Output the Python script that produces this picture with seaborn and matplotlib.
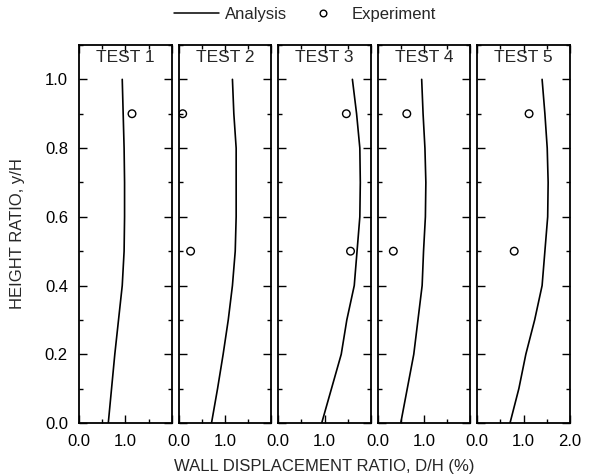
import numpy as np
import pandas as pd
import matplotlib
matplotlib.use("Agg")
import matplotlib.pyplot as plt
import seaborn as sns
from matplotlib.lines import Line2D
from matplotlib.ticker import MultipleLocator, FormatStrFormatter

# ---- data ----
tests = ["TEST 1", "TEST 2", "TEST 3", "TEST 4", "TEST 5"]
height = [0.0, 0.1, 0.2, 0.3, 0.4, 0.5, 0.6, 0.7, 0.8, 0.9, 1.0]
analysis_t1 = [0.63, 0.70, 0.77, 0.85, 0.93, 0.97, 0.98, 0.98, 0.97, 0.95, 0.93]
analysis_t2 = [0.71, 0.84, 0.96, 1.07, 1.16, 1.22, 1.24, 1.24, 1.24, 1.19, 1.16]
analysis_t3 = [0.94, 1.15, 1.36, 1.48, 1.64, 1.70, 1.76, 1.77, 1.76, 1.69, 1.60]
analysis_t4 = [0.50, 0.64, 0.78, 0.87, 0.96, 0.99, 1.03, 1.04, 1.02, 0.98, 0.95]
analysis_t5 = [0.71, 0.90, 1.05, 1.24, 1.40, 1.46, 1.52, 1.53, 1.51, 1.46, 1.40]
exp_height = [0.5, 0.9]
exp_t1 = [np.nan, 1.14]
exp_t2 = [0.26, 0.09]
exp_t3 = [1.56, 1.47]
exp_t4 = [0.34, 0.63]
exp_t5 = [0.80, 1.12]
x_ticks = [0.0, 1.0, 2.0]
x_labels_inner = ["0.0", "1.0", ""]
x_labels_last = ["0.0", "1.0", "2.0"]

analysis = [analysis_t1, analysis_t2, analysis_t3, analysis_t4, analysis_t5]
experiment = [exp_t1, exp_t2, exp_t3, exp_t4, exp_t5]

sns.set_style("ticks")
plt.rcParams["font.family"] = ["Liberation Sans", "DejaVu Sans"]
plt.rcParams["font.size"] = 12

fig, axes = plt.subplots(1, 5, figsize=(5.9, 4.76), dpi=100)
fig.subplots_adjust(left=79/590, right=570/590, top=1-45/476, bottom=1-423/476, wspace=0.07)

for i, ax in enumerate(axes):
    dfa = pd.DataFrame({"x": analysis[i], "y": height})
    sns.lineplot(data=dfa, x="x", y="y", ax=ax, sort=False, estimator=None,
                 orient="y", color="black", linewidth=1.2)
    dfe = pd.DataFrame({"x": experiment[i], "y": exp_height}).dropna()
    sns.scatterplot(data=dfe, x="x", y="y", ax=ax, marker="o", s=30,
                    facecolor="none", edgecolor="black", linewidth=1.0, zorder=3)
    ax.set_xlim(0, 2.0)
    ax.set_ylim(0, 1.1)
    ax.set_xlabel("")
    ax.set_ylabel("")
    ax.set_xticks(x_ticks)
    ax.set_xticklabels(x_labels_last if i == 4 else x_labels_inner)
    ax.xaxis.set_minor_locator(MultipleLocator(0.5))
    ax.yaxis.set_major_locator(MultipleLocator(0.2))
    ax.yaxis.set_minor_locator(MultipleLocator(0.1))
    ax.yaxis.set_major_formatter(FormatStrFormatter("%.1f"))
    ax.tick_params(which="both", direction="in", top=True, right=True,
                   left=True, bottom=True, width=1.0, labelsize=12, colors="black")
    ax.tick_params(which="major", length=6, pad=8)
    ax.tick_params(which="minor", length=3)
    for sp in ax.spines.values():
        sp.set_visible(True)
        sp.set_linewidth(1.3)
        sp.set_color("black")
    ax.text(1.0, 1.065, tests[i], ha="center", va="center", fontsize=12.5)
    if i > 0:
        ax.tick_params(axis="y", which="both", labelleft=False)

axes[0].set_ylabel("HEIGHT RATIO, y/H", fontsize=12)
axes[0].yaxis.set_label_coords(-(79-25)/92.7, 0.5)
fig.text((79+570)/2/590, 1-466/476, "WALL DISPLACEMENT RATIO, D/H (%)",
         ha="center", va="center", fontsize=12)

h_line = Line2D([], [], color="black", linewidth=1.1)
h_circ = Line2D([], [], color="black", marker="o", markersize=4.8,
                markerfacecolor="none", linestyle="none", markeredgewidth=1.0)
fig.legend([h_line], ["Analysis"], loc="center left",
           bbox_to_anchor=(166/590, 1-14/476), frameon=False, borderpad=0,
           fontsize=12, handlelength=2.65, handletextpad=0.4)
fig.legend([h_circ], ["Experiment"], loc="center left",
           bbox_to_anchor=(298/590, 1-14/476), frameon=False, borderpad=0,
           fontsize=12, handlelength=2.0, handletextpad=0.7)

fig.savefig("out.png", dpi=100)
